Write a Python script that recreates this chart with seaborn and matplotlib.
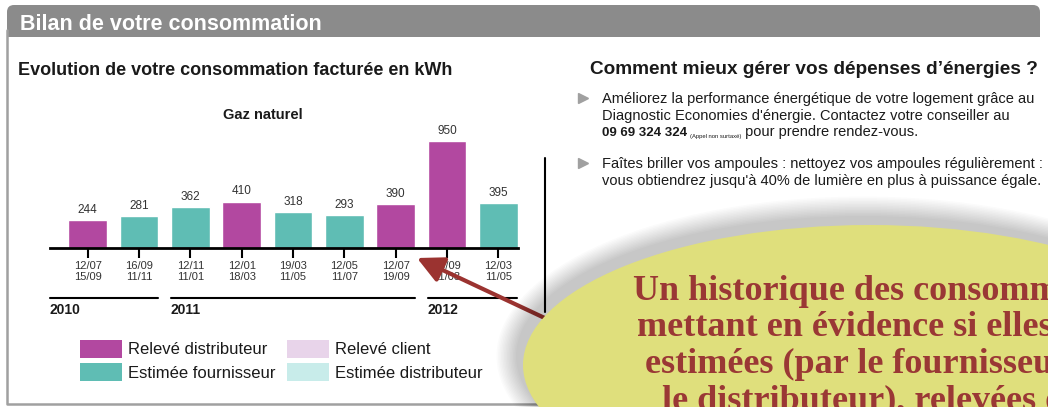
import matplotlib
matplotlib.use('Agg')
import matplotlib.pyplot as plt
import matplotlib.patches as mpatches
import matplotlib.transforms as mtransforms
import pandas as pd
import seaborn as sns

# Data read from the bill
periode_debut = ['12/07', '16/09', '12/11', '12/01', '19/03', '12/05', '12/07', '20/09', '12/03']
periode_fin = ['15/09', '11/11', '11/01', '18/03', '11/05', '11/07', '19/09', '11/03', '11/05']
conso_kwh = [244, 281, 362, 410, 318, 293, 390, 950, 395]
type_releve = ['Relevé distributeur', 'Estimée fournisseur', 'Estimée fournisseur',
               'Relevé distributeur', 'Estimée fournisseur', 'Estimée fournisseur',
               'Relevé distributeur', 'Relevé distributeur', 'Estimée fournisseur']
annees = ['2010', '2011', '2012']
premier_releve_annee = [0, 2, 7]
legende = ['Relevé distributeur', 'Estimée fournisseur', 'Relevé client', 'Estimée distributeur']
couleurs = ['#b248a0', '#5fbdb4', '#e8d4ea', '#c8ecea']

conseils = [
    ['Améliorez la performance énergétique de votre logement grâce au',
     "Diagnostic Economies d'énergie. Contactez votre conseiller au"],
    ['Faîtes briller vos ampoules : nettoyez vos ampoules régulièrement :',
     "vous obtiendrez jusqu'à 40% de lumière en plus à puissance égale."],
]
bulle = ['Un historique des consommations',
         'mettant en évidence si elles sont',
         'estimées (par le fournisseur ou',
         'le distributeur), relevées ou']

sns.set_style('white')
plt.rcParams['font.family'] = ['Liberation Sans', 'DejaVu Sans']

W, H = 1048, 407
fig = plt.figure(figsize=(W / 100, H / 100), dpi=100)
fig.patch.set_facecolor('white')

# pixel-space layers under and over the chart
under = fig.add_axes([0, 0, 1, 1], zorder=0)
over = fig.add_axes([0, 0, 1, 1], zorder=3)
for a in (under, over):
    a.set_xlim(0, W)
    a.set_ylim(H, 0)
    a.axis('off')

# panel + header
under.plot([7, 7, 1040], [30, 404, 404], color='#a0a0a0', lw=1.8)
under.add_patch(mpatches.FancyBboxPatch((7, 5), 1033, 32, boxstyle='round,pad=0,rounding_size=7',
                                        fc='#8b8b8b', ec='none'))
under.add_patch(mpatches.Rectangle((7, 20), 1033, 17, fc='#8b8b8b', ec='none'))
under.text(20, 30, 'Bilan de votre consommation', color='white', fontsize=15.5,
           fontweight='bold', va='baseline')

under.text(18, 75, 'Evolution de votre consommation facturée en kWh', fontsize=13,
           fontweight='bold', color='#1a1a1a', va='baseline')
under.text(263, 119, 'Gaz naturel', fontsize=10.5, fontweight='bold', color='#1a1a1a',
           ha='center', va='baseline')

# bar chart
base_y, top_y = 247.7, 120
ax = fig.add_axes([50 / W, 1 - base_y / H, 468 / W, (base_y - top_y) / H], zorder=2)
df = pd.DataFrame({
    'periode': [f'{d}\n{f}' for d, f in zip(periode_debut, periode_fin)],
    'kwh': conso_kwh,
    'type': type_releve,
})
sns.barplot(data=df, x='periode', y='kwh', hue='type', palette=dict(zip(legende, couleurs)),
            dodge=False, width=0.75, legend=False, saturation=1, ax=ax)
ax.set_facecolor('none')
ax.set_xlim(-0.734, 8.383)
ax.set_ylim(0, (base_y - top_y) / 0.1126)
ax.set_yticks([])
ax.set(xlabel='', ylabel='')
for s in ['top', 'left', 'right']:
    ax.spines[s].set_visible(False)
ax.spines['bottom'].set_linewidth(2)
ax.spines['bottom'].set_color('black')
ax.tick_params(axis='x', bottom=True, length=7.5, width=1.5, pad=2, labelsize=8,
               labelcolor='#333333', color='black')
for lbl in ax.get_xticklabels():
    lbl.set_linespacing(1.15)
for c in ax.containers:
    ax.bar_label(c, labels=[f'{int(b.get_height())}' for b in c], padding=3,
                 fontsize=8.5, color='#333333')

# year brackets below the dates
def ay(py):
    return (base_y - py) / (base_y - top_y)

tr = mtransforms.blended_transform_factory(ax.transData, ax.transAxes)
fins = premier_releve_annee[1:] + [len(conso_kwh)]
for an, i0, i1 in zip(annees, premier_releve_annee, fins):
    x0 = i0 - 0.38 if i0 > 0 else ax.get_xlim()[0]
    x1 = i1 - 1 + 0.37
    ax.plot([x0, x1], [ay(297.7)] * 2, transform=tr, color='black', lw=1.5, clip_on=False)
    ax.text(x0, ay(314), an, transform=tr, fontsize=10, fontweight='bold', va='baseline',
            color='#1a1a1a')

under.plot([545, 545], [158, 312], color='black', lw=1.5)

# legend
for k, (lab, col) in enumerate(zip(legende, couleurs)):
    x = 80 + (k // 2) * 207
    y = 340 + (k % 2) * 23
    under.add_patch(mpatches.Rectangle((x, y), 42, 18, fc=col, ec='none'))
    under.text(x + 48, y + 10, lab, fontsize=12, color='#1a1a1a', va='center')

# right column
under.text(590, 74, 'Comment mieux gérer vos dépenses d’énergies ?', fontsize=13.7,
           fontweight='bold', color='#1a1a1a', va='baseline')
under.plot([583, 583], [98, 163], ls='none', marker='>', ms=7, color='#a0a0a0')
for k, lignes in enumerate(conseils):
    y0 = 103.3 + k * 65
    for j, l in enumerate(lignes):
        under.text(602, y0 + j * 16.5, l, fontsize=10.5, color='#1a1a1a', va='baseline')
t1 = under.text(602, 136.3, '09 69 324 324', fontsize=9.5, fontweight='bold', color='#1a1a1a',
                va='baseline')
t2 = under.annotate('(Appel non surtaxé)', xy=(1, 0), xycoords=t1, xytext=(2, 0),
                    textcoords='offset points', fontsize=4.2, color='#1a1a1a', va='bottom')
under.annotate(' pour prendre rendez-vous.', xy=(1, 0), xycoords=t2, xytext=(0, 0),
               textcoords='offset points', fontsize=10.5, color='#1a1a1a', va='bottom')

# callout
over.annotate('', xy=(417, 258), xytext=(600, 344),
              arrowprops=dict(arrowstyle='-|>,head_length=0.4,head_width=0.2',
                              mutation_scale=40, lw=3, color='#9b3330',
                              shrinkA=0, shrinkB=0), zorder=1)
for k in range(14):
    over.add_patch(mpatches.Ellipse((863, 356), 694 + 3 * k, 280 + 3 * k, fc='black',
                                    ec='none', alpha=0.017, zorder=2))
over.add_patch(mpatches.Ellipse((870, 365), 694, 280, fc='#dfdf7c', ec='none', zorder=2))
for l, x, y in zip(bulle, [633, 637, 645, 662], [300, 336.5, 373, 409.5]):
    over.text(x, y, l, fontsize=26, fontweight='bold', family='Liberation Serif',
              color='#9a3835', va='baseline', zorder=3)

fig.savefig('out.png', dpi=100)
